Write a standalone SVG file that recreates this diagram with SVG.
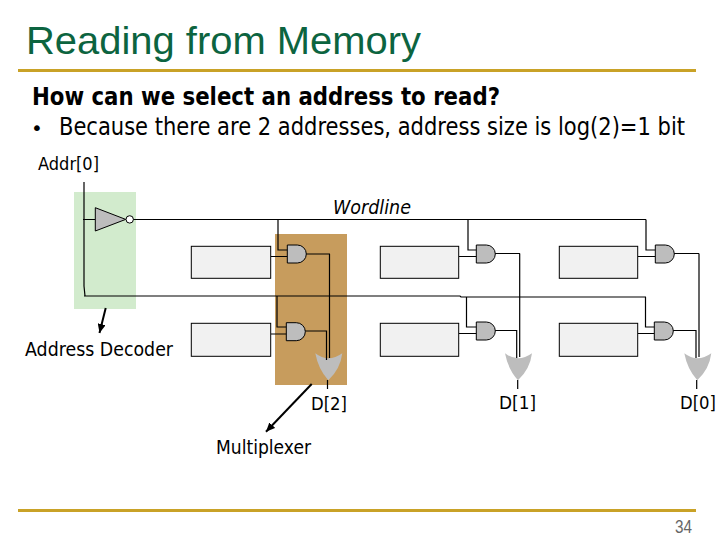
<svg xmlns="http://www.w3.org/2000/svg" width="720" height="540" viewBox="0 0 720 540">
<style>
text{font-family:"DejaVu Sans","Liberation Sans",sans-serif;fill:#000}
.lbl{font-size:18px}
.lg{font-size:20px}
.title{font-family:"Liberation Sans",Arial,sans-serif;font-size:39px;fill:#0c6440}
.rule{fill:#c9a227}
.cell{fill:#f1f1f1;stroke:#000;stroke-width:1}
.gate{fill:#bdbdbd;stroke:#000;stroke-width:1}
.or{fill:#bdbdbd;stroke:none}
.w{fill:none;stroke:#000;stroke-width:1.2}
.arr{fill:none;stroke:#000;stroke-width:2;marker-end:url(#ah)}
</style>
<defs>
<marker id="ah" markerUnits="userSpaceOnUse" markerWidth="10" markerHeight="8" refX="9" refY="4" orient="auto"><path d="M0 0L9 4L0 8Z" fill="#000"/></marker>
<path id="and" d="M0 0H10A9 9 0 0 1 10 18H0Z"/>
<path id="orgate" d="M0 0Q13 10 27 0Q25 16 13 27Q3 16 0 0Z"/>
</defs>
<rect width="720" height="540" fill="#fff"/>
<g id="title"><text class="title" x="26" y="54" textLength="395" lengthAdjust="spacingAndGlyphs">Reading from Memory</text></g>
<rect class="rule" x="18" y="69" width="678" height="3"/>
<rect class="rule" x="18" y="509" width="678" height="3"/>
<g id="body">
<text x="32" y="105" font-size="24" font-weight="bold" textLength="468" lengthAdjust="spacingAndGlyphs">How can we select an address to read?</text>
<text x="31" y="135" font-size="20">•</text>
<text transform="scale(.8 1)" x="73.750" y="135" font-size="24" textLength="782.500" lengthAdjust="spacingAndGlyphs">Because there are 2 addresses, address size is log(2)=1 bit</text>
</g>
<g id="address-decoder-region"><rect x="74" y="192" width="62" height="117" fill="#d2ebcd"/></g>
<g id="multiplexer-region"><rect x="275" y="234" width="72" height="151" fill="#c79c5d"/></g>
<g id="or-2"><use href="#orgate" class="or" x="315.300" y="353.300"/></g>
<g id="or-1"><use href="#orgate" class="or" x="505" y="353.300"/></g>
<g id="or-0"><use href="#orgate" class="or" x="684.300" y="353.300"/></g>
<g id="connectors">
<path class="w" d="M84 182V286L85 296"/>
<path class="w" d="M83 219.500H95M133 219.500H646"/>
<path class="w" d="M84 296H460L461 297H646"/>
<path class="w" d="M278 219.500V250H287.500M271 256.500H287.500M305.500 254H330M329.500 254V358"/>
<path class="w" d="M277 296V327H286.500M271 334H286.500M304.500 331H326.500V360M327.500 380V389"/>
<path class="w" d="M468 219.500V250H476.500M459 256.500H476.500M494.500 253.500H520M519.700 253.500V357"/>
<path class="w" d="M466.500 297V327H476.500M459 333.500H476.500M493.500 330.500H516.700V358M517.700 380V389"/>
<path class="w" d="M646 219.500V250H655.500M638 256.500H655.500M673.500 253.500H699M699 253.500V357"/>
<path class="w" d="M645.500 297V327H654.500M638 333.500H654.500M672.500 330.500H696V358M696.700 380V389"/>
<path class="arr" d="M105.700 308L99.500 333"/>
<path class="arr" d="M311.700 384L266 431.700"/>
</g>
<g id="inverter">
<path class="gate" d="M95.300 207.700L125.700 219.400L95.300 231Z"/>
<circle cx="129.700" cy="219.400" r="3.700" fill="#fff" stroke="#000"/>
</g>
<g id="cell-top-2"><rect class="cell" x="191.300" y="246.300" width="79.400" height="32"/></g>
<g id="cell-bottom-2"><rect class="cell" x="191.300" y="323.300" width="79.400" height="33"/></g>
<g id="cell-top-1"><rect class="cell" x="380.300" y="246.300" width="78.400" height="32"/></g>
<g id="cell-bottom-1"><rect class="cell" x="380.300" y="323.300" width="78.400" height="33"/></g>
<g id="cell-top-0"><rect class="cell" x="559.300" y="246.300" width="78.400" height="32"/></g>
<g id="cell-bottom-0"><rect class="cell" x="559.300" y="323.300" width="78.400" height="33"/></g>
<g id="and-top-2"><use href="#and" class="gate" x="287.300" y="245"/></g>
<g id="and-bottom-2"><use href="#and" class="gate" x="286.300" y="322.700"/></g>
<g id="and-top-1"><use href="#and" class="gate" x="476.300" y="245"/></g>
<g id="and-bottom-1"><use href="#and" class="gate" x="476.300" y="322"/></g>
<g id="and-top-0"><use href="#and" class="gate" x="655.300" y="245"/></g>
<g id="and-bottom-0"><use href="#and" class="gate" x="654.300" y="322"/></g>
<g id="labels">
<text class="lbl" x="38" y="170" textLength="61" lengthAdjust="spacingAndGlyphs">Addr[0]</text>
<text class="lg" x="333" y="214" font-style="italic" textLength="78" lengthAdjust="spacingAndGlyphs">Wordline</text>
<text class="lg" x="25" y="356" textLength="148" lengthAdjust="spacingAndGlyphs">Address Decoder</text>
<text class="lbl" x="311" y="410" textLength="36" lengthAdjust="spacingAndGlyphs">D[2]</text>
<text class="lbl" x="499" y="409" textLength="37" lengthAdjust="spacingAndGlyphs">D[1]</text>
<text class="lbl" x="680" y="409" textLength="36" lengthAdjust="spacingAndGlyphs">D[0]</text>
<text class="lg" x="216" y="454" textLength="95" lengthAdjust="spacingAndGlyphs">Multiplexer</text>
<text x="675" y="532.500" font-size="18" textLength="17" lengthAdjust="spacingAndGlyphs" style="fill:#666;font-family:'Liberation Sans',Arial,sans-serif">34</text>
</g>
</svg>
